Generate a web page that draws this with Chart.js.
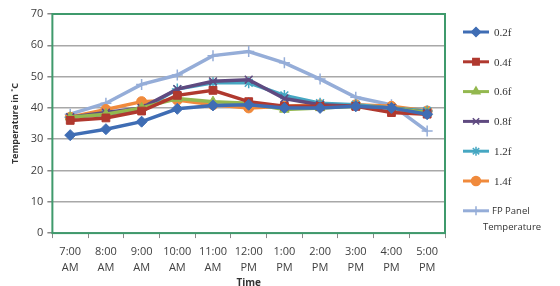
<!DOCTYPE html>
<html lang="en">
<head>
    <meta charset="UTF-8">
    <title>Temperature vs Time</title>
    <style>
        html, body { margin: 0; padding: 0; background: #fff; }
        #chart { display: block; }
    </style>
</head>
<body>
    <canvas id="chart" width="560" height="286"></canvas>

    <script src="https://cdn.jsdelivr.net/npm/chart.js@4.4.1/dist/chart.umd.min.js"></script>
    <script>
        // time of day labels (two lines each)
        var times = [
            ['7:00', 'AM'], ['8:00', 'AM'], ['9:00', 'AM'], ['10:00', 'AM'], ['11:00', 'AM'],
            ['12:00', 'PM'], ['1:00', 'PM'], ['2:00', 'PM'], ['3:00', 'PM'], ['4:00', 'PM'], ['5:00', 'PM']
        ];

        var yTicks = [0, 10, 20, 30, 40, 50, 60, 70];

        var seriesNames = ['0.2f', '0.4f', '0.6f', '0.8f', '1.2f', '1.4f', 'FP Panel Temperature'];

        var temp02 = [31.3, 33.2, 35.6, 39.7, 40.8, 41, 40, 40, 40.5, 40, 38];
        var temp04 = [36, 36.8, 39, 44, 45.6, 42, 40.5, 40.5, 40.5, 38.5, 38];
        var temp06 = [37, 38, 40, 43, 42, 41.5, 39.5, 40, 40.5, 40, 38.5];
        var temp08 = [37, 38.5, 40, 46, 48.5, 49, 43, 41, 40.5, 40, 38.5];
        var temp12 = [37, 38, 39.5, 46, 48, 48, 44, 41.5, 41, 40, 39];
        var temp14 = [37, 39.5, 42, 42.5, 41, 40, 40.5, 41, 41, 40.5, 39];
        var tempFP = [38, 41.5, 47.5, 50.5, 56.7, 58, 54.4, 49.2, 43.4, 41, 32.6];

        var colors = ['#3f6db4', '#b0392f', '#93b84f', '#5f4a80', '#46a7c2', '#f08a3c', '#95add8'];
        var markers = ['rectRot', 'rect', 'triangle', 'crossRot', 'star', 'circle', 'cross'];
        var seriesData = [temp02, temp04, temp06, temp08, temp12, temp14, tempFP];

        var datasets = seriesData.map(function(d, i) {
            return {
                label: seriesNames[i],
                data: d,
                borderColor: colors[i],
                backgroundColor: colors[i],
                borderWidth: 3.5,
                pointStyle: markers[i],
                pointRadius: markers[i] === 'circle' ? 5 : 5.5,
                pointBorderWidth: markers[i].indexOf('cross') === 0 || markers[i] === 'star' ? 1.5 : 1,
                tension: 0
            };
        });

        // plot frame in green
        var framePlugin = {
            id: 'frame',
            afterDatasetsDraw: function(chart) {
                var a = chart.chartArea, ctx = chart.ctx;
                ctx.save();
                ctx.strokeStyle = '#3f9a6c';
                ctx.lineWidth = 2;
                ctx.strokeRect(a.left, a.top, a.right - a.left, a.bottom - a.top);
                ctx.restore();
            }
        };

        // legend at the right, line + marker like Excel
        var sideLegend = {
            id: 'sideLegend',
            afterDraw: function(chart) {
                var ctx = chart.ctx;
                var x0 = 463, x1 = 489, top = 32, step = 29.8;
                ctx.save();
                chart.data.datasets.forEach(function(ds, i) {
                    var y = top + i * step;
                    ctx.strokeStyle = ds.borderColor;
                    ctx.lineWidth = 3;
                    ctx.beginPath();
                    ctx.moveTo(x0, y);
                    ctx.lineTo(x1, y);
                    ctx.stroke();
                    ctx.fillStyle = ds.backgroundColor;
                    ctx.lineWidth = 1.5;
                    Chart.helpers.drawPoint(ctx, { pointStyle: ds.pointStyle, radius: 4.5, borderWidth: 1.5 }, (x0 + x1) / 2, y);
                    ctx.fillStyle = '#333';
                    ctx.textBaseline = 'middle';
                    if (i < 6) {
                        ctx.font = '11px "Liberation Serif", serif';
                        ctx.fillText(ds.label, 494, y + 1);
                    } else {
                        ctx.font = '9.5px "Open Sans", sans-serif';
                        ctx.fillText('FP Panel', 492, y);
                        ctx.fillText('Temperature', 483, y + 16);
                    }
                });
                ctx.restore();
            }
        };

        new Chart(document.getElementById('chart'), {
            type: 'line',
            data: { labels: times, datasets: datasets },
            plugins: [framePlugin, sideLegend],
            options: {
                responsive: false,
                animation: false,
                layout: { padding: { top: 14, right: 115, left: 10, bottom: 0 } },
                plugins: {
                    legend: { display: false },
                    tooltip: { enabled: false }
                },
                scales: {
                    x: {
                        offset: true,
                        grid: {
                            display: true,
                            drawOnChartArea: false,
                            drawTicks: true,
                            offset: true,
                            tickLength: 5,
                            color: '#888'
                        },
                        border: { display: false },
                        ticks: {
                            color: '#404040',
                            font: { family: '"Open Sans", sans-serif', size: 11, lineHeight: 1.45 },
                            maxRotation: 0,
                            autoSkip: false,
                            padding: 6
                        },
                        title: {
                            display: true,
                            text: 'Time',
                            color: '#333',
                            font: { family: '"Open Sans", sans-serif', size: 10, weight: 'bold', lineHeight: 1 },
                            padding: { top: -4, bottom: -2 }
                        }
                    },
                    y: {
                        min: 0,
                        max: 70,
                        afterBuildTicks: function(axis) {
                            axis.ticks = yTicks.map(function(v) { return { value: v }; });
                        },
                        grid: {
                            color: '#a8a8a8',
                            lineWidth: 1.5,
                            tickLength: 5,
                            tickColor: '#888'
                        },
                        border: { display: false },
                        ticks: {
                            color: '#404040',
                            font: { family: '"Open Sans", sans-serif', size: 11 },
                            padding: 4
                        },
                        title: {
                            display: true,
                            text: 'Temperature in \u02daC',
                            color: '#333',
                            font: { family: '"Open Sans", sans-serif', size: 9, weight: 'bold' },
                            padding: { top: 0, bottom: 6 }
                        }
                    }
                }
            }
        });
    </script>
</body>
</html>
